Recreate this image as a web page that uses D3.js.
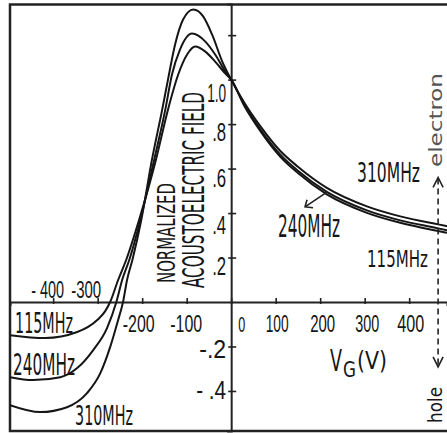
<!DOCTYPE html>
<html>
<head>
<meta charset="utf-8">
<script src="https://cdnjs.cloudflare.com/ajax/libs/d3/7.8.5/d3.min.js"></script>
<style>
  body { margin: 0; background: #fff; }
  svg { display: block; font-family: "DejaVu Sans Condensed", "DejaVu Sans", sans-serif; font-stretch: condensed; }
  text { fill: #161616; }
</style>
</head>
<body>
<script>
// gate voltage V_G (V) and normalized acoustoelectric field
const v115 = [-497, -418, -346, -301, -283, -272, -254, -236, -207, -169, -142, -119, -99, -81, -58, -36, -13, 0, 30, 65, 110, 150, 215, 305, 380, 465, 485]
const e115 = [-0.149, -0.162, -0.135, -0.081, -0.041, 0, 0.099, 0.189, 0.369, 0.64, 0.865, 1.023, 1.113, 1.149, 1.126, 1.081, 1.027, 1.0, 0.88, 0.77, 0.654, 0.58, 0.484, 0.401, 0.356, 0.319, 0.311]

const v240 = [-497, -445, -384, -346, -310, -279, -258, -245, -229, -204, -173, -148, -133, -115, -88, -58, -36, -13, 0, 30, 65, 110, 150, 215, 305, 380, 465, 485]
const e240 = [-0.338, -0.351, -0.338, -0.297, -0.216, -0.117, 0, 0.099, 0.189, 0.369, 0.64, 0.865, 1.023, 1.135, 1.207, 1.171, 1.113, 1.036, 1.0, 0.885, 0.778, 0.664, 0.59, 0.495, 0.412, 0.367, 0.331, 0.322]

const v310 = [-497, -429, -369, -324, -294, -272, -254, -243, -234, -222, -202, -178, -155, -142, -126, -108, -85, -63, -43, -20, 0, 30, 65, 110, 150, 215, 305, 380, 465, 485]
const e310 = [-0.464, -0.495, -0.473, -0.41, -0.32, -0.203, -0.081, 0, 0.099, 0.189, 0.369, 0.64, 0.865, 1.0, 1.158, 1.27, 1.315, 1.284, 1.203, 1.081, 1.0, 0.895, 0.792, 0.68, 0.608, 0.513, 0.43, 0.385, 0.349, 0.341]

const xTicks = [-400, -300, -200, -100, 0, 100, 200, 300, 400]
const xTickLabels = ['- 400', '-300', '-200', '-100', '0', '100', '200', '300', '400']
const yTicks = [1.2, 1.0, 0.8, 0.6, 0.4, 0.2, -0.2, -0.4]
const yTickLabels = ['', '1.0', '.8', '.6', '.4', '.2', '-.2', '- .4']
const freqLabels = ['115MHz', '240MHz', '310MHz']

const width = 447
const height = 433
const svg = d3.select('body').append('svg').attr('width', width).attr('height', height)

const x = d3.scaleLinear().domain([-497, 485]).range([10, 447])
const y = d3.scaleLinear().domain([-0.58, 1.34]).range([431, 4])

// squeeze a text to a given width (hand lettering is very narrow)
function fit(t, tx, ty, w, rot) {
    const n = t.node().getComputedTextLength()
    t.attr('x', 0).attr('y', 0).attr('dy', 0)
     .attr('transform', 'translate(' + tx + ',' + ty + ') rotate(' + (rot || 0) + ') scale(' + (w / n) + ',1)')
    return t
}

// frame (open on the right)
svg.append('path')
    .attr('d', 'M447,4.5 L10,4.5 L10,431 L447,431')
    .style('fill', 'none').style('stroke', '#222').style('stroke-width', 2.5)

// axes through the origin
const axisX = d3.axisBottom(x).tickValues(xTicks).tickSizeOuter(0).tickSize(4)
    .tickFormat((d, i) => xTickLabels[i])
const axisY = d3.axisLeft(y).tickValues(yTicks).tickSizeOuter(0).tickSize(4)
    .tickFormat((d, i) => yTickLabels[i])

const gx = svg.append('g').attr('transform', 'translate(0,' + y(0) + ')').call(axisX)
const gy = svg.append('g').attr('transform', 'translate(' + x(0) + ',0)').call(axisY)

gx.select('.domain').style('stroke', '#222').style('stroke-width', 2)
gy.select('.domain').style('stroke', '#222').style('stroke-width', 2)
gx.selectAll('.tick line').attr('y1', -4).attr('y2', 2).style('stroke', '#222').style('stroke-width', 1.6)
gy.selectAll('.tick line').attr('x1', -3).attr('x2', 5).style('stroke', '#222').style('stroke-width', 1.6)

// hand-placed tick labels
const xdx = [-6, -12, -4, -1, 10, 1, 2, 2, 1]
const xw = [33, 30, 32, 32, 7, 23, 25, 24, 27]
gx.selectAll('.tick text').each(function(d, i) {
    const above = d < -250
    const t = d3.select(this)
        .attr('font-size', 23).attr('font-family', null).attr('text-anchor', 'middle')
        .style('fill', '#161616')
    fit(t, xdx[i], above ? -4 : 30, xw[i])
})
const ydy = [0, 22, 16, 18, 20, 17, 11, 8]
const yw = [0, 19, 14, 14, 14, 14, 27, 30]
gy.selectAll('.tick text').each(function(d, i) {
    const t = d3.select(this)
    if (!yTickLabels[i]) { t.remove(); return }
    t.attr('font-size', 26).attr('font-family', null).attr('text-anchor', 'end')
        .style('fill', '#161616')
    fit(t, -5, ydy[i], yw[i])
})

// curves
svg.append('clipPath').attr('id', 'plot')
    .append('rect').attr('x', 10).attr('y', 4).attr('width', 437).attr('height', 427)

const line = d3.line()
    .x(d => x(d[0]))
    .y(d => y(d[1]))
    .curve(d3.curveMonotoneX)

const series = [d3.zip(v115, e115), d3.zip(v240, e240), d3.zip(v310, e310)]
svg.append('g').attr('clip-path', 'url(#plot)')
    .selectAll('path').data(series).enter().append('path')
    .attr('d', line)
    .style('fill', 'none').style('stroke', '#151515').style('stroke-width', 2)

function label(str, cx, cy, size, w, anchor, rot) {
    const t = svg.append('text')
        .attr('text-anchor', anchor || 'middle')
        .attr('font-size', size)
        .text(str)
    return fit(t, cx, cy, w, rot)
}

// frequency labels, right and left branches
label(freqLabels[2], 388.5, 182, 26, 63)
label(freqLabels[1], 309, 237, 32, 62)
label(freqLabels[0], 397.5, 267, 23, 61)
label(freqLabels[0], 44, 333, 29, 58)
label(freqLabels[1], 44, 375, 31, 62)
label(freqLabels[2], 104, 425, 27, 58)

// arrow from the 240 MHz curve to its label
const a0 = [x(216), y(0.495)], a1 = [x(166), y(0.428)]
svg.append('path')
    .attr('d', 'M' + a0 + 'L' + a1 + 'M' + [a1[0] + 8, a1[1] + 1] + 'L' + a1 + 'L' + [a1[0] + 2, a1[1] - 7])
    .style('fill', 'none').style('stroke', '#222').style('stroke-width', 1.6)

// axis titles
label('NORMALIZED', 175, 233, 25, 100, 'middle', -90)
label('ACOUSTOELECTRIC FIELD', 204, 190, 31, 196, 'middle', -90)

label('V', 330, 371, 30, 12, 'start')
label('G', 343, 377, 21, 13, 'start')
label('(V)', 357, 369, 24, 30, 'start')

// electron / hole direction marker
const ax = x(465)
svg.append('line')
    .attr('x1', ax).attr('x2', ax).attr('y1', y(0.555)).attr('y2', y(-0.29))
    .style('stroke', '#222').style('stroke-width', 1.6).style('stroke-dasharray', '6,4')
svg.append('path')
    .attr('d', 'M' + (ax - 5) + ',' + (y(0.56) + 10) + 'L' + ax + ',' + y(0.56) + 'L' + (ax + 5) + ',' + (y(0.56) + 10) +
        'M' + (ax - 5) + ',' + (y(-0.292) - 10) + 'L' + ax + ',' + y(-0.292) + 'L' + (ax + 5) + ',' + (y(-0.292) - 10))
    .style('fill', 'none').style('stroke', '#222').style('stroke-width', 1.6)

label('electron', 442, 120, 18, 94, 'middle', -90).style('fill', '#555')
label('hole', 442, 405, 19, 36, 'middle', -90)
</script>
</body>
</html>
